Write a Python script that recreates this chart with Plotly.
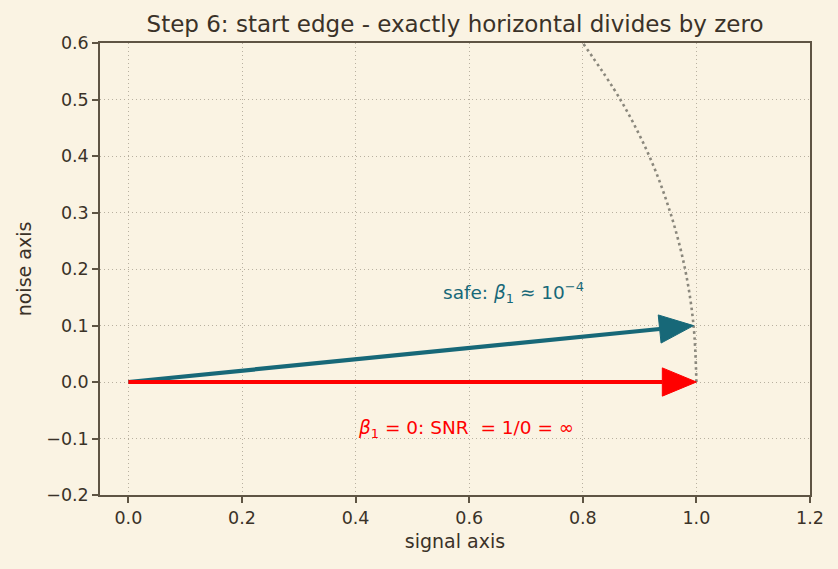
import numpy as np
import plotly.graph_objects as go

# data
arc_x = [1.0, 0.995, 0.98, 0.954, 0.917, 0.866, 0.8]
arc_y = [0.0, 0.1, 0.2, 0.3, 0.4, 0.5, 0.6]
safe_vec = [0.995, 0.0998]
zero_vec = [1.0, 0.0]
x_ticks = [0.0, 0.2, 0.4, 0.6, 0.8, 1.0, 1.2]
y_ticks = [-0.2, -0.1, 0.0, 0.1, 0.2, 0.3, 0.4, 0.5, 0.6]

BG = "#faf3e3"
TXT = "#3a3228"
AX = "#5e5444"
TEAL = "#176878"
RED = "#ff0000"
HEAD_L, HEAD_W = 0.06, 0.05

fig = go.Figure()
fig.add_trace(go.Scatter(x=arc_x, y=arc_y, mode="lines", line=dict(color="#8a877c", width=2.6, dash="2.6px,3.4px", shape="spline"), hoverinfo="skip"))

def arrow(vec, color):
    v = np.array(vec, dtype=float)
    u = v / np.linalg.norm(v)
    n = np.array([-u[1], u[0]])
    base = v - HEAD_L * u
    fig.add_trace(go.Scatter(x=[0, base[0]], y=[0, base[1]], mode="lines", line=dict(color=color, width=4.2), hoverinfo="skip"))
    p1 = base + HEAD_W / 2 * n
    p2 = base - HEAD_W / 2 * n
    fig.add_trace(go.Scatter(x=[p1[0], v[0], p2[0], p1[0]], y=[p1[1], v[1], p2[1], p1[1]], mode="lines", fill="toself", fillcolor=color, line=dict(color=color, width=1), hoverinfo="skip"))

arrow(safe_vec, TEAL)
arrow(zero_vec, RED)

fig.add_annotation(x=0.55, y=0.158, xref="x", yref="y", text="safe: <i>β</i><sub>1</sub> ≈ 10<sup>−4</sup>", showarrow=False, xanchor="left", yanchor="middle", font=dict(color=TEAL, size=18.5))
fig.add_annotation(x=0.40, y=-0.083, xref="x", yref="y", text="<i>β</i><sub>1</sub> = 0: SNR  = 1/0 = ∞", showarrow=False, xanchor="left", yanchor="middle", font=dict(color=RED, size=18.5))

axis_common = dict(showline=True, linecolor=AX, linewidth=1.5, mirror=True, ticks="outside", ticklen=6, tickwidth=1.5, tickcolor=AX,
                   showgrid=True, gridcolor="#b8b0a0", griddash="1px,3px", gridwidth=1, zeroline=False, tickfont=dict(size=17.5, color=TXT))
fig.update_xaxes(range=[-0.05, 1.2], tickvals=x_ticks, tickformat=".1f", title=dict(text="signal axis", font=dict(size=19, color=TXT), standoff=8), **axis_common)
fig.update_yaxes(range=[-0.2, 0.6], tickvals=y_ticks, tickformat=".1f", title=dict(text="noise axis", font=dict(size=19, color=TXT), standoff=10), **axis_common)

fig.update_layout(
    width=838, height=569, paper_bgcolor=BG, plot_bgcolor=BG, showlegend=False,
    margin=dict(l=100, r=28, t=43, b=74),
    font=dict(family="DejaVu Sans", color=TXT),
    title=dict(text="Step 6: start edge - exactly horizontal divides by zero", x=0.543, xanchor="center", y=0.958, yanchor="middle", font=dict(size=23, color=TXT)),
)
fig.write_html("out.html")
